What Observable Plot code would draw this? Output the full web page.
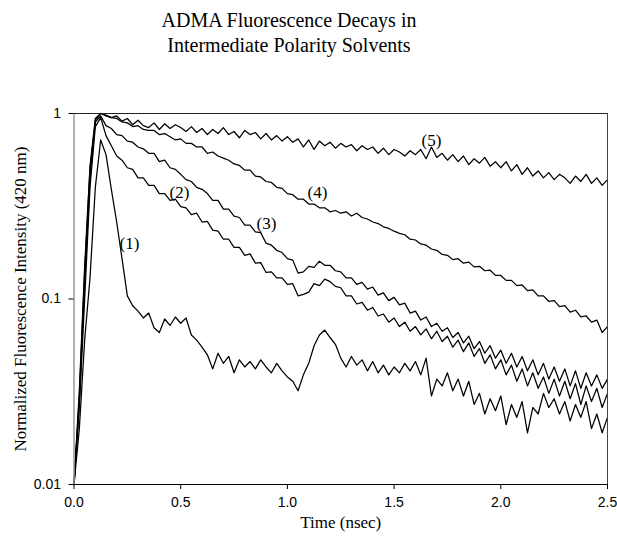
<!DOCTYPE html>
<html>
<head>
<meta charset="utf-8">
<script src="https://cdn.jsdelivr.net/npm/d3@7"></script>
<script src="https://cdn.jsdelivr.net/npm/@observablehq/plot@0.6"></script>
<style>
  html, body { margin: 0; padding: 0; background: #fff; }
  #wrap { width: 617px; height: 538px; position: relative; overflow: hidden; }
  #title { width: 578px; height: 70px; box-sizing: border-box; padding-top: 7.7px;
           text-align: center; font-family: "Liberation Serif", "Times New Roman", serif;
           font-size: 20px; line-height: 25px; color: #000; }
</style>
</head>
<body>
<div id="wrap">
  <div id="title">ADMA Fluorescence Decays in<br>Intermediate Polarity Solvents</div>
  <div id="chart"></div>
</div>
<script>
// Sampling times (ns)
const time = [0,0.025,0.05,0.075,0.1,0.125,0.15,0.175,0.2,0.225,
0.25,0.275,0.3,0.325,0.35,0.375,0.4,0.425,0.45,0.475,
0.5,0.525,0.55,0.575,0.6,0.625,0.65,0.675,0.7,0.725,
0.75,0.775,0.8,0.825,0.85,0.875,0.9,0.925,0.95,0.975,
1.0,1.025,1.05,1.075,1.1,1.125,1.15,1.175,1.2,1.225,
1.25,1.275,1.3,1.325,1.35,1.375,1.4,1.425,1.45,1.475,
1.5,1.525,1.55,1.575,1.6,1.625,1.65,1.675,1.7,1.725,
1.75,1.775,1.8,1.825,1.85,1.875,1.9,1.925,1.95,1.975,
2.0,2.025,2.05,2.075,2.1,2.125,2.15,2.175,2.2,2.225,
2.25,2.275,2.3,2.325,2.35,2.375,2.4,2.425,2.45,2.475,2.5];

const series1 = [0.010,0.020,0.06,0.13,0.40,0.72,0.60,0.39,0.26,0.165,
0.104,0.092,0.086,0.079,0.084,0.070,0.066,0.078,0.072,0.080,
0.074,0.079,0.064,0.060,0.055,0.050,0.042,0.051,0.045,0.049,
0.040,0.047,0.043,0.046,0.042,0.047,0.043,0.040,0.045,0.041,
0.038,0.036,0.032,0.039,0.045,0.056,0.064,0.068,0.062,0.057,
0.048,0.043,0.049,0.044,0.047,0.041,0.046,0.040,0.044,0.039,
0.043,0.040,0.045,0.041,0.046,0.039,0.048,0.030,0.037,0.034,
0.040,0.032,0.037,0.030,0.036,0.027,0.031,0.024,0.029,0.025,
0.030,0.021,0.027,0.023,0.028,0.019,0.026,0.024,0.031,0.026,
0.029,0.024,0.028,0.022,0.027,0.023,0.028,0.020,0.024,0.019,0.023];

const series2 = [0.010,0.026,0.10,0.40,0.85,0.95,0.76,0.67,0.59,0.56,
0.51,0.50,0.45,0.45,0.41,0.41,0.37,0.37,0.34,0.345,
0.315,0.31,0.285,0.29,0.26,0.262,0.235,0.232,0.21,0.21,
0.19,0.19,0.172,0.175,0.156,0.157,0.139,0.14,0.13,0.13,
0.12,0.121,0.104,0.106,0.109,0.121,0.118,0.128,0.124,0.117,
0.115,0.104,0.104,0.094,0.096,0.087,0.09,0.081,0.083,0.075,
0.079,0.071,0.075,0.067,0.071,0.064,0.069,0.061,0.067,0.059,
0.063,0.055,0.06,0.052,0.058,0.049,0.054,0.045,0.05,0.042,
0.047,0.039,0.044,0.036,0.042,0.034,0.040,0.033,0.038,0.031,
0.037,0.030,0.036,0.029,0.035,0.027,0.034,0.028,0.033,0.026,0.031];

const series3 = [0.010,0.028,0.12,0.45,0.90,0.97,0.86,0.83,0.77,0.76,
0.71,0.70,0.66,0.645,0.61,0.61,0.55,0.56,0.51,0.50,
0.47,0.44,0.43,0.40,0.39,0.37,0.34,0.34,0.305,0.305,
0.28,0.275,0.25,0.25,0.23,0.228,0.20,0.195,0.183,0.178,
0.165,0.162,0.138,0.14,0.15,0.148,0.16,0.152,0.152,0.142,
0.14,0.13,0.13,0.12,0.123,0.113,0.116,0.105,0.108,0.098,
0.102,0.093,0.095,0.084,0.086,0.077,0.08,0.071,0.074,0.067,
0.07,0.062,0.066,0.058,0.063,0.054,0.059,0.051,0.056,0.048,
0.053,0.045,0.051,0.043,0.049,0.041,0.047,0.039,0.045,0.037,
0.043,0.036,0.042,0.034,0.041,0.033,0.040,0.034,0.039,0.033,0.037];

const series4 = [0.010,0.032,0.15,0.52,0.94,1.0,0.97,0.95,0.94,0.90,
0.89,0.85,0.86,0.82,0.81,0.81,0.77,0.78,0.75,0.72,
0.73,0.69,0.69,0.66,0.66,0.61,0.62,0.59,0.575,0.56,
0.535,0.525,0.495,0.495,0.46,0.455,0.43,0.425,0.40,0.395,
0.37,0.365,0.345,0.345,0.325,0.325,0.31,0.31,0.295,0.30,
0.29,0.295,0.28,0.29,0.275,0.27,0.26,0.255,0.245,0.24,
0.232,0.226,0.222,0.21,0.208,0.198,0.195,0.186,0.183,0.174,
0.172,0.163,0.165,0.156,0.158,0.149,0.15,0.142,0.143,0.134,
0.134,0.126,0.126,0.118,0.119,0.111,0.112,0.104,0.104,0.097,
0.098,0.091,0.092,0.085,0.087,0.08,0.081,0.075,0.077,0.066,0.071];

const series5 = [0.010,0.030,0.14,0.50,0.92,1.0,0.98,0.95,0.97,0.91,
0.94,0.87,0.92,0.86,0.84,0.89,0.82,0.88,0.83,0.87,
0.84,0.80,0.85,0.79,0.83,0.77,0.82,0.78,0.84,0.77,
0.80,0.74,0.81,0.77,0.79,0.73,0.78,0.72,0.76,0.71,
0.75,0.70,0.73,0.66,0.72,0.64,0.71,0.67,0.70,0.65,
0.69,0.66,0.68,0.63,0.67,0.64,0.66,0.61,0.65,0.60,
0.64,0.62,0.59,0.63,0.60,0.64,0.57,0.66,0.58,0.61,
0.56,0.60,0.55,0.59,0.53,0.57,0.54,0.58,0.52,0.55,
0.51,0.55,0.49,0.53,0.47,0.51,0.46,0.49,0.45,0.48,
0.44,0.47,0.45,0.42,0.46,0.43,0.47,0.42,0.45,0.41,0.44];

const seriesNames = ["(1)", "(2)", "(3)", "(4)", "(5)"];
const seriesValues = [series1, series2, series3, series4, series5];

// Curve label anchors (time in ns, intensity)
const labelTime = [0.26, 0.494, 0.902, 1.141, 1.675];
const labelValue = [0.199, 0.375, 0.255, 0.375, 0.715];

const xTicks = [0, 0.5, 1.0, 1.5, 2.0, 2.5];
const xTickLabels = ["0.0", "0.5", "1.0", "1.5", "2.0", "2.5"];
const yTicks = [0.01, 0.1, 1];
const yTickLabels = ["0.01", "0.1", "1"];

const xLabel = "Time (nsec)";
const yLabel = "Normalized Fluorescence Intensity (420 nm)";

const rows = [];
seriesValues.forEach((vals, k) => {
  vals.forEach((v, i) => rows.push({series: seriesNames[k], t: time[i], v}));
});
const labels = seriesNames.map((name, k) => ({name, t: labelTime[k], v: labelValue[k]}));

const serif = "'Liberation Serif', 'Times New Roman', serif";

const chart = Plot.plot({
  width: 617,
  height: 468,
  marginLeft: 73.5,
  marginRight: 10,
  marginTop: 43,
  marginBottom: 54,
  style: {fontFamily: "'Liberation Sans', Arial, sans-serif", fontSize: "14px", background: "#fff", color: "#000"},
  x: {domain: [0, 2.5]},
  y: {type: "log", domain: [0.01, 1]},
  marks: [
    Plot.line(rows, {x: "t", y: "v", z: "series", stroke: "#000", strokeWidth: 1.25, strokeLinejoin: "round"}),
    Plot.ruleX([0], {stroke: "#999", strokeWidth: 1.5}),
    Plot.ruleX([2.5], {stroke: "#444", strokeWidth: 1}),
    Plot.ruleY([1], {stroke: "#222", strokeWidth: 1.2}),
    Plot.ruleY([0.01], {stroke: "#000", strokeWidth: 1.2}),
    Plot.axisX({ticks: xTicks, tickFormat: (d) => xTickLabels[xTicks.indexOf(d)], tickSize: 5, tickPadding: 8, label: null}),
    Plot.axisY({ticks: yTicks, tickFormat: (d) => yTickLabels[yTicks.indexOf(d)], tickSize: 5, tickPadding: 8, label: null}),
    Plot.text(labels, {x: "t", y: "v", text: "name", fontFamily: serif, fontSize: 17, fill: "#000"}),
    Plot.text([xLabel], {frameAnchor: "bottom", textAnchor: "middle", dy: 43.6, fontFamily: serif, fontSize: 17, fill: "#000"}),
    Plot.text([yLabel], {frameAnchor: "left", textAnchor: "middle", rotate: -90, dx: -53.5, fontFamily: serif, fontSize: 17, fill: "#000"})
  ]
});
document.getElementById("chart").appendChild(chart);
</script>
</body>
</html>
